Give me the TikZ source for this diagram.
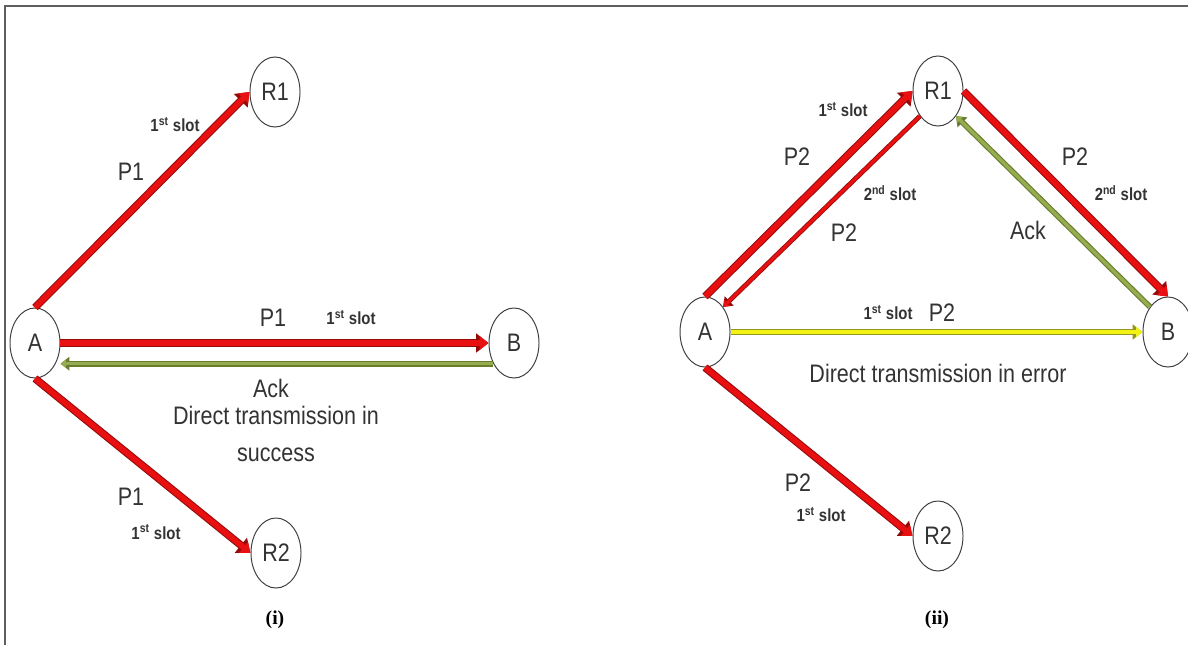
\documentclass[tikz,border=0pt]{standalone}
\usepackage{fontspec}
\usepackage{tikz}
\usetikzlibrary{arrows.meta,shapes.geometric}
\newfontfamily\arialfont[FakeStretch=0.85]{Liberation Sans}
\newfontfamily\capfont{Liberation Serif}
\definecolor{pktred}{RGB}{232,16,16}
\definecolor{pktdark}{RGB}{150,10,10}
\definecolor{ackgreen}{RGB}{150,172,80}
\definecolor{ackdark}{RGB}{105,125,45}
\definecolor{errfill}{RGB}{242,242,20}
\definecolor{errdark}{RGB}{150,150,30}
\definecolor{framegray}{RGB}{95,95,95}

\begin{document}
\begin{tikzpicture}[x=0.025cm,y=-0.025cm,
every node/.style={font=\arialfont\fontsize{18}{26}\selectfont,text=black!80},
station/.style={ellipse,draw=black!75,line width=0.7pt,minimum width=1.25cm,minimum height=1.75cm,inner sep=0pt},
slot/.style={font=\arialfont\bfseries\fontsize{12.5}{14}\selectfont},
caption/.style={font=\capfont\bfseries\fontsize{14}{16}\selectfont,text=black},
pkt/.style={draw=pktred,line width=4pt,-{Triangle[length=0pt 1.6,width=0pt 2.4]},preaction={draw=pktdark,line width=5.5pt}},
pktthin/.style={draw=pktred,line width=2.2pt,-{Triangle[length=0pt 1.8,width=0pt 2.6]},preaction={draw=pktdark,line width=3.4pt}},
ack/.style={draw=ackgreen,line width=2.4pt,-{Triangle[length=0pt 1.6,width=0pt 2.4]},preaction={draw=ackdark,line width=4pt}},
err/.style={draw=errfill,line width=2.8pt,-{Triangle[length=0pt 1.6,width=0pt 2.4]},preaction={draw=errdark,line width=4.4pt}}]
\useasboundingbox (0,0) rectangle (1188,645);
\draw[framegray,line width=1.4pt] (5,645) -- (5,6) -- (1188,6);

%stations of both panels
\foreach \n/\x/\y/\t in {ia/35/343/A,ib/514/343/B,ir1/275/92/R1,ir2/276/553/R2,
	iia/705/332/A,iib/1168/332/B,iir1/938/91/R1,iir2/938/536/R2}{
	\node[station] (\n) at (\x,\y) {\t};
}

%panel (i): direct transmission in success
\draw[pkt] (ia.north) -- (ir1.west);
\draw[pkt] (ia.east) -- (ib.west);
\draw[ack] (ib.225) -- (ib.225 -| ia.east);
\draw[pkt] (ia.south) -- (ir2.west);

\node[slot] (islot1) at (175,125) {1\textsuperscript{st} slot};
\node (ip1) at (131,172) {P1};
\node (ip2) at (273,318) {P1};
\node[slot] (islot2) at (351,318) {1\textsuperscript{st} slot};
\node (iack) at (271,388) {Ack};
\node[align=center] (itext) at (276,434) {Direct transmission in\\success};
\node (ip3) at (131,497) {P1};
\node[slot] (islot3) at (156,532) {1\textsuperscript{st} slot};
\node[caption] (icap) at (275,620) {(i)};

%panel (ii): direct transmission in error, relay R1 forwards
\draw[pkt] (iia.north) -- (iir1.west);
\draw[pktthin] (iir1.south west) -- (iia.north east);
\draw[pkt] (iir1.east) -- (iib.north);
\draw[ack] (iib.north west) -- (iir1.south east);
\draw[err] (iia.east) -- (iib.west);
\draw[pkt] (iia.south) -- (iir2.west);

\node[slot] (iislot1) at (843,110) {1\textsuperscript{st} slot};
\node (iip1) at (797,157) {P2};
\node[slot] (iislot2) at (890,193) {2\textsuperscript{nd} slot};
\node (iip2) at (844,233) {P2};
\node (iip3) at (1075,157) {P2};
\node[slot] (iislot3) at (1121,193) {2\textsuperscript{nd} slot};
\node (iiack) at (1028,230) {Ack};
\node[slot] (iislot4) at (888,313) {1\textsuperscript{st} slot};
\node (iip4) at (942,313) {P2};
\node (iitext) at (938,373) {Direct transmission in error};
\node (iip5) at (798,483) {P2};
\node[slot] (iislot5) at (821,515) {1\textsuperscript{st} slot};
\node[caption] (iicap) at (937,620) {(ii)};
\end{tikzpicture}
\end{document}
